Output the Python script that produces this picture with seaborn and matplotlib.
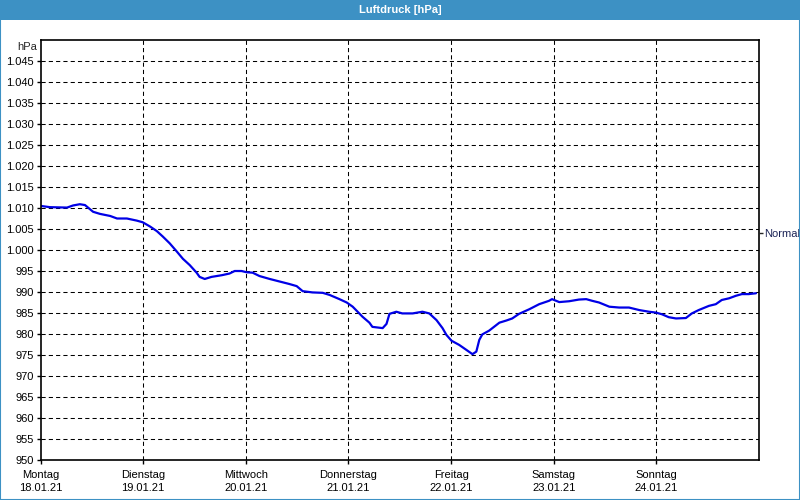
import matplotlib
matplotlib.use("Agg")
import matplotlib.pyplot as plt
import seaborn as sns
import pandas as pd
from matplotlib.patches import Rectangle

# ---- data ----
hours = [0, 2.2, 6.2, 7.6, 9.2, 10.4, 12.3, 13.9, 16.3, 17.9, 20.2, 22.5, 23.9,
         25.6, 27.2, 28.6, 30.2, 31.9, 33.3, 34.9, 36.5, 37.2, 38.4, 40.0, 42.4,
         44.2, 45.4, 47.0, 48.2, 49.6, 51.2, 53.6, 55.9, 58.2, 59.9, 61.3, 63.6,
         66.0, 67.6, 69.9, 71.6, 73.0, 75.3, 76.9, 77.6, 80.0, 80.9, 81.6, 83.2,
         84.6, 87.0, 89.3, 90.9, 92.6, 94.0, 94.9, 96.1, 97.9, 99.6, 101.0, 101.9,
         102.6, 103.3, 104.9, 107.3, 108.9, 110.3, 111.9, 114.3, 116.6, 118.9,
         119.6, 121.3, 123.6, 125.9, 127.6, 129.0, 130.6, 133.0, 135.3, 137.6,
         140.0, 142.3, 143.9, 145.3, 146.9, 148.6, 150.9, 152.3, 153.9, 156.3,
         157.9, 159.3, 161.0, 162.6, 164.0, 165.6, 167.3]
pressure = [1010.5, 1010.2, 1010.1, 1010.6, 1010.9, 1010.7, 1009.1, 1008.6, 1008.1,
            1007.5, 1007.5, 1007.0, 1006.6, 1005.6, 1004.5, 1003.2, 1001.6, 999.6,
            997.9, 996.4, 994.6, 993.6, 993.1, 993.6, 994.0, 994.4, 995.0, 995.0,
            994.7, 994.6, 993.8, 993.1, 992.5, 991.9, 991.4, 990.2, 989.9, 989.8,
            989.3, 988.3, 987.5, 986.5, 984.1, 982.7, 981.7, 981.4, 982.4, 984.8,
            985.3, 984.9, 984.9, 985.3, 984.9, 983.3, 981.4, 979.8, 978.4, 977.4,
            976.2, 975.2, 975.8, 978.6, 979.9, 980.8, 982.7, 983.2, 983.7, 984.8,
            985.9, 987.1, 987.9, 988.3, 987.6, 987.8, 988.2, 988.3, 987.9, 987.5,
            986.5, 986.3, 986.3, 985.7, 985.3, 985.1, 984.7, 984.0, 983.7, 983.8,
            984.9, 985.7, 986.7, 987.1, 988.1, 988.5, 989.1, 989.5, 989.5, 989.7]
day_names = ["Montag", "Dienstag", "Mittwoch", "Donnerstag", "Freitag", "Samstag", "Sonntag"]
day_dates = ["18.01.21", "19.01.21", "20.01.21", "21.01.21", "22.01.21", "23.01.21", "24.01.21"]
y_ticks = list(range(950, 1050, 5))
normal_value = 1004
title = "Luftdruck [hPa]"
unit = "hPa"

BLUE_BAR = "#3d91c4"
LINE_COLOR = "#0000e6"
FS = 8

sns.set_style("white")
plt.rcParams["font.family"] = ["Liberation Sans", "DejaVu Sans"]
plt.rcParams["font.size"] = FS

df = pd.DataFrame({"h": hours, "p": pressure})

fig = plt.figure(figsize=(8, 5), dpi=100)
fig.patch.set_facecolor("white")
ax = fig.add_axes([40.5 / 800, 40 / 500, (759 - 40.5) / 800, 420 / 500])

sns.lineplot(data=df, x="h", y="p", ax=ax, color=LINE_COLOR, linewidth=1.6)

ax.set_xlim(0, 168)
ax.set_ylim(950, 1050)
ax.set_xlabel("")
ax.set_ylabel("")

ax.set_yticks(y_ticks)
ax.set_yticklabels([f"{v // 1000}.{v % 1000:03d}" if v >= 1000 else str(v) for v in y_ticks])
ax.set_xticks([i * 24 for i in range(7)])
ax.set_xticklabels([f"{n}\n{d}" for n, d in zip(day_names, day_dates)], linespacing=1.45)

ax.tick_params(axis="both", direction="out", length=3, width=1, color="black",
               labelsize=FS, labelcolor="black")
ax.tick_params(axis="y", pad=2, left=True)
ax.tick_params(axis="x", pad=4, bottom=True)

for v in y_ticks[1:]:
    ax.axhline(v, color="black", lw=0.75, ls=(0, (4, 3)), zorder=0)
for i in range(1, 7):
    ax.axvline(i * 24, color="black", lw=0.75, ls=(0, (4, 3)), zorder=0)

for s in ax.spines.values():
    s.set_color("black")
    s.set_linewidth(1.2)

ax.text(-0.005, 0.995, unit, transform=ax.transAxes, ha="right", va="top", fontsize=FS)

ax2 = ax.twinx()
ax2.set_ylim(950, 1050)
ax2.set_yticks([normal_value])
ax2.set_yticklabels(["Normal"])
ax2.tick_params(axis="y", direction="out", length=3, width=1, pad=1, labelsize=FS,
                labelcolor="#1c2456")
for s in ax2.spines.values():
    s.set_visible(False)

# title bar and frame
fig.add_artist(Rectangle((0, 480 / 500), 1, 20 / 500, transform=fig.transFigure,
                         facecolor=BLUE_BAR, edgecolor="none", zorder=5))
fig.text(0.5, 490 / 500, title, ha="center", va="center", color="white",
         fontsize=FS, fontweight="bold", zorder=6)
fig.add_artist(Rectangle((0.0006, 0.001), 0.9988, 0.998, transform=fig.transFigure,
                         facecolor="none", edgecolor=BLUE_BAR, linewidth=1.5, zorder=7))

fig.savefig("out.png", dpi=100)
